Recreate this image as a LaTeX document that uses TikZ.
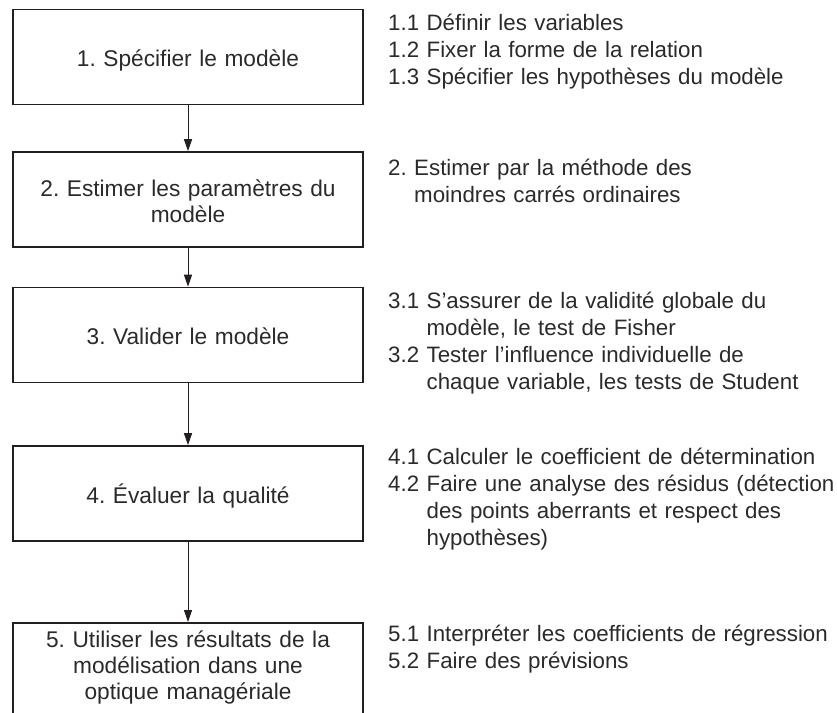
\documentclass[tikz,border=0pt]{standalone}
\usepackage{fontspec}
\setmainfont{Liberation Sans}
\usepackage{tikz}
\usetikzlibrary{arrows.meta}
\definecolor{encre}{HTML}{231F20}
\definecolor{texteGris}{HTML}{2A2A2A}
\frenchspacing

\begin{document}
\begin{tikzpicture}[x=1pt,y=-1pt,
  font=\fontsize{22.7}{27}\selectfont,
  boite/.style={draw=encre,line width=1.6pt,minimum width=350pt,minimum height=95pt,
    inner sep=0pt,text width=340pt,align=center,text height=19pt,text depth=0pt,
    text=texteGris,font=\fontsize{22.7}{26}\selectfont},
  fleche/.style={draw=encre,line width=1pt,-{Triangle[length=12pt,width=8pt]}},
  notes/.style={anchor=base west,text width=480pt,align=left,inner sep=0pt,text=texteGris,
    font=\fontsize{22.3}{27}\selectfont}]
\useasboundingbox (0,0) rectangle (837,712);
% etapes
\node[boite] (b1) at (188,57) {1. Spécifier le modèle};
\node[boite,text depth=26pt] (b2) at (188,199.5) {2. Estimer les paramètres du\\modèle};
\node[boite] (b3) at (188,335) {3. Valider le modèle};
\node[boite] (b4) at (188,493.5) {4. Évaluer la qualité};
\node[boite,anchor=north,minimum height=0pt,text height=25pt,text depth=100pt] (b5) at (188,622)
  {5. Utiliser les résultats de la\\modélisation dans une\\optique managériale};
\draw[fleche] (b1) -- (b2);
\draw[fleche] (b2) -- (b3);
\draw[fleche] (b3) -- (b4);
\draw[fleche] (b4) -- (b5);
% details
\node[notes] (d1) at (388,30) {1.1 Définir les variables\\1.2 Fixer la forme de la relation\\1.3 Spécifier les hypothèses du modèle};
\node[notes] (d2) at (388,175) {2. Estimer par la méthode des\\\phantom{2.}\ moindres carrés ordinaires};
\node[notes] (d3) at (388,308) {3.1 S’assurer de la validité globale du\\\phantom{3.1}\ modèle, le test de Fisher\\3.2 Tester l’influence individuelle de\\\phantom{3.2}\ chaque variable, les tests de Student};
\node[notes] (d4) at (388,464) {4.1 Calculer le coefficient de détermination\\4.2 Faire une analyse des résidus (détection\\\phantom{4.2}\ des points aberrants et respect des\\\phantom{4.2}\ hypothèses)};
\node[notes] (d5) at (388,641) {5.1 Interpréter les coefficients de régression\\5.2 Faire des prévisions};
\end{tikzpicture}
\end{document}
